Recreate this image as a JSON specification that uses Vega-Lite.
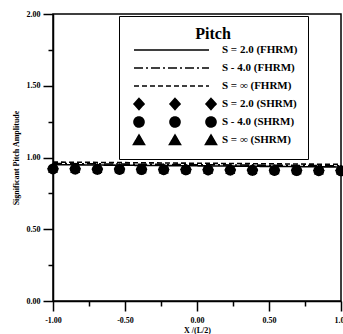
{
  "$schema": "https://vega.github.io/schema/vega-lite/v6.json",
  "width": 288,
  "height": 287,
  "autosize": {"type": "none"},
  "padding": {"left": 53, "top": 14, "right": 2, "bottom": 33},
  "background": "white",
  "config": {
    "view": {"stroke": "black", "strokeWidth": 1.5},
    "axis": {
      "grid": false,
      "domainColor": "black",
      "domainWidth": 1.5,
      "tickColor": "black",
      "tickWidth": 1.5,
      "labelFont": "Liberation Serif",
      "labelFontSize": 8,
      "labelFontWeight": "bold",
      "labelColor": "black",
      "titleFont": "Liberation Serif",
      "titleFontSize": 8,
      "titleFontWeight": "bold",
      "titleColor": "black"
    }
  },
  "datasets": {
    "lines": [
      {"x": -1.0, "y": 0.950, "series": "S = 2.0 (FHRM)"},
      {"x": -0.75, "y": 0.948, "series": "S = 2.0 (FHRM)"},
      {"x": -0.5, "y": 0.946, "series": "S = 2.0 (FHRM)"},
      {"x": -0.25, "y": 0.944, "series": "S = 2.0 (FHRM)"},
      {"x": 0.0, "y": 0.942, "series": "S = 2.0 (FHRM)"},
      {"x": 0.25, "y": 0.940, "series": "S = 2.0 (FHRM)"},
      {"x": 0.5, "y": 0.938, "series": "S = 2.0 (FHRM)"},
      {"x": 0.75, "y": 0.936, "series": "S = 2.0 (FHRM)"},
      {"x": 1.0, "y": 0.934, "series": "S = 2.0 (FHRM)"},
      {"x": -1.0, "y": 0.958, "series": "S - 4.0 (FHRM)"},
      {"x": -0.75, "y": 0.956, "series": "S - 4.0 (FHRM)"},
      {"x": -0.5, "y": 0.954, "series": "S - 4.0 (FHRM)"},
      {"x": -0.25, "y": 0.952, "series": "S - 4.0 (FHRM)"},
      {"x": 0.0, "y": 0.950, "series": "S - 4.0 (FHRM)"},
      {"x": 0.25, "y": 0.948, "series": "S - 4.0 (FHRM)"},
      {"x": 0.5, "y": 0.946, "series": "S - 4.0 (FHRM)"},
      {"x": 0.75, "y": 0.944, "series": "S - 4.0 (FHRM)"},
      {"x": 1.0, "y": 0.942, "series": "S - 4.0 (FHRM)"},
      {"x": -1.0, "y": 0.968, "series": "S = ∞ (FHRM)"},
      {"x": -0.75, "y": 0.966, "series": "S = ∞ (FHRM)"},
      {"x": -0.5, "y": 0.964, "series": "S = ∞ (FHRM)"},
      {"x": -0.25, "y": 0.962, "series": "S = ∞ (FHRM)"},
      {"x": 0.0, "y": 0.960, "series": "S = ∞ (FHRM)"},
      {"x": 0.25, "y": 0.958, "series": "S = ∞ (FHRM)"},
      {"x": 0.5, "y": 0.956, "series": "S = ∞ (FHRM)"},
      {"x": 0.75, "y": 0.954, "series": "S = ∞ (FHRM)"},
      {"x": 1.0, "y": 0.952, "series": "S = ∞ (FHRM)"}
    ],
    "points": [
      {"x": -1.0, "y": 0.922, "series": "S = 2.0 (SHRM)"},
      {"x": -0.846, "y": 0.921, "series": "S = 2.0 (SHRM)"},
      {"x": -0.692, "y": 0.920, "series": "S = 2.0 (SHRM)"},
      {"x": -0.538, "y": 0.919, "series": "S = 2.0 (SHRM)"},
      {"x": -0.385, "y": 0.918, "series": "S = 2.0 (SHRM)"},
      {"x": -0.231, "y": 0.917, "series": "S = 2.0 (SHRM)"},
      {"x": -0.077, "y": 0.916, "series": "S = 2.0 (SHRM)"},
      {"x": 0.077, "y": 0.915, "series": "S = 2.0 (SHRM)"},
      {"x": 0.231, "y": 0.914, "series": "S = 2.0 (SHRM)"},
      {"x": 0.385, "y": 0.913, "series": "S = 2.0 (SHRM)"},
      {"x": 0.538, "y": 0.912, "series": "S = 2.0 (SHRM)"},
      {"x": 0.692, "y": 0.911, "series": "S = 2.0 (SHRM)"},
      {"x": 0.846, "y": 0.910, "series": "S = 2.0 (SHRM)"},
      {"x": 1.0, "y": 0.909, "series": "S = 2.0 (SHRM)"},
      {"x": -1.0, "y": 0.920, "series": "S - 4.0 (SHRM)"},
      {"x": -0.846, "y": 0.919, "series": "S - 4.0 (SHRM)"},
      {"x": -0.692, "y": 0.918, "series": "S - 4.0 (SHRM)"},
      {"x": -0.538, "y": 0.917, "series": "S - 4.0 (SHRM)"},
      {"x": -0.385, "y": 0.916, "series": "S - 4.0 (SHRM)"},
      {"x": -0.231, "y": 0.915, "series": "S - 4.0 (SHRM)"},
      {"x": -0.077, "y": 0.914, "series": "S - 4.0 (SHRM)"},
      {"x": 0.077, "y": 0.913, "series": "S - 4.0 (SHRM)"},
      {"x": 0.231, "y": 0.912, "series": "S - 4.0 (SHRM)"},
      {"x": 0.385, "y": 0.911, "series": "S - 4.0 (SHRM)"},
      {"x": 0.538, "y": 0.910, "series": "S - 4.0 (SHRM)"},
      {"x": 0.692, "y": 0.909, "series": "S - 4.0 (SHRM)"},
      {"x": 0.846, "y": 0.908, "series": "S - 4.0 (SHRM)"},
      {"x": 1.0, "y": 0.907, "series": "S - 4.0 (SHRM)"},
      {"x": -1.0, "y": 0.924, "series": "S = ∞ (SHRM)"},
      {"x": -0.846, "y": 0.923, "series": "S = ∞ (SHRM)"},
      {"x": -0.692, "y": 0.922, "series": "S = ∞ (SHRM)"},
      {"x": -0.538, "y": 0.921, "series": "S = ∞ (SHRM)"},
      {"x": -0.385, "y": 0.920, "series": "S = ∞ (SHRM)"},
      {"x": -0.231, "y": 0.919, "series": "S = ∞ (SHRM)"},
      {"x": -0.077, "y": 0.918, "series": "S = ∞ (SHRM)"},
      {"x": 0.077, "y": 0.917, "series": "S = ∞ (SHRM)"},
      {"x": 0.231, "y": 0.916, "series": "S = ∞ (SHRM)"},
      {"x": 0.385, "y": 0.915, "series": "S = ∞ (SHRM)"},
      {"x": 0.538, "y": 0.914, "series": "S = ∞ (SHRM)"},
      {"x": 0.692, "y": 0.913, "series": "S = ∞ (SHRM)"},
      {"x": 0.846, "y": 0.912, "series": "S = ∞ (SHRM)"},
      {"x": 1.0, "y": 0.911, "series": "S = ∞ (SHRM)"}
    ]
  },
  "encoding": {
    "x": {
      "field": "x",
      "type": "quantitative",
      "scale": {"domain": [-1, 1], "nice": false, "zero": false},
      "axis": {
        "title": "X /(L/2)",
        "values": [-1, -0.75, -0.5, -0.25, 0, 0.25, 0.5, 0.75, 1],
        "tickSize": {"condition": {"test": "datum.value % 0.5 !== 0", "value": 5}, "value": 10},
        "labelExpr": "datum.value % 0.5 === 0 ? (datum.value < 0 ? '-' : '') + format(abs(datum.value), '.2f') : ''",
        "labelPadding": 5,
        "titlePadding": 2,
        "labelFlush": false
      }
    },
    "y": {
      "field": "y",
      "type": "quantitative",
      "scale": {"domain": [0, 2], "nice": false, "zero": false},
      "axis": {
        "title": "Significant Pitch Amplitude",
        "values": [0, 0.25, 0.5, 0.75, 1, 1.25, 1.5, 1.75, 2],
        "tickSize": {"condition": {"test": "datum.value % 0.5 !== 0", "value": 5}, "value": 10},
        "labelExpr": "datum.value % 0.5 === 0 ? format(datum.value, '.2f') : ''",
        "labelPadding": 3,
        "titlePadding": 6
      }
    }
  },
  "layer": [
    {
      "data": {"name": "lines"},
      "mark": {"type": "line", "strokeWidth": 1.6},
      "encoding": {
        "color": {
          "field": "series",
          "type": "nominal",
          "scale": {
            "domain": ["S = 2.0 (FHRM)", "S - 4.0 (FHRM)", "S = ∞ (FHRM)", "S = 2.0 (SHRM)", "S - 4.0 (SHRM)", "S = ∞ (SHRM)"],
            "range": ["black", "black", "black", "black", "black", "black"]
          },
          "legend": {
            "title": "Pitch",
            "orient": "none",
            "legendX": 66,
            "legendY": 2,
            "padding": 10,
            "strokeColor": "black",
            "fillColor": "white",
            "titleFont": "Liberation Serif",
            "titleFontSize": 16,
            "titleFontWeight": "bold",
            "titleColor": "black",
            "titleAnchor": "middle",
            "titleAlign": "center",
            "titlePadding": 2,
            "labelFont": "Liberation Serif",
            "labelFontSize": 11,
            "labelFontWeight": "bold",
            "labelColor": "black",
            "labelLimit": 0,
            "labelOffset": 81,
            "symbolSize": 100,
            "rowPadding": 0,
            "encode": {
              "symbols": {
                "update": {
                  "shape": {"signal": "datum.value === 'S = 2.0 (SHRM)' ? 'M0,-1.1M0,1.1M-0.2,0L0.8,-1.1L1.8,0L0.8,1.1Z M7,0L8,-1.1L9,0L8,1.1Z M14.2,0L15.2,-1.1L16.2,0L15.2,1.1Z' : datum.value === 'S - 4.0 (SHRM)' ? 'M0,-1.1M0,1.1M-0.2,0A1,1 0 1,0 1.8,0A1,1 0 1,0 -0.2,0Z M7,0A1,1 0 1,0 9,0A1,1 0 1,0 7,0Z M14.2,0A1,1 0 1,0 16.2,0A1,1 0 1,0 14.2,0Z' : datum.value === 'S = ∞ (SHRM)' ? 'M0,-1.1M0,1.1M0.8,-1L1.9,0.9L-0.3,0.9Z M8,-1L9.1,0.9L6.9,0.9Z M15.2,-1L16.3,0.9L14.1,0.9Z' : 'M0,-1.1M0,1.1M-0.2,0H14.8'"},
                  "fill": {"signal": "indexof(datum.value, 'SHRM') >= 0 ? 'black' : 'transparent'"},
                  "stroke": {"signal": "indexof(datum.value, 'FHRM') >= 0 ? 'black' : 'transparent'"},
                  "strokeWidth": {"value": 1.6},
                  "strokeDash": {"signal": "datum.value === 'S - 4.0 (FHRM)' ? [9,3,2,3] : datum.value === 'S = ∞ (FHRM)' ? [5,3] : [1,0]"},
                  "opacity": {"value": 1}
                }
              }
            }
          }
        },
        "strokeDash": {
          "field": "series",
          "type": "nominal",
          "scale": {
            "domain": ["S = 2.0 (FHRM)", "S - 4.0 (FHRM)", "S = ∞ (FHRM)"],
            "range": [[1, 0], [9, 3, 2, 3], [5, 3]]
          },
          "legend": null
        }
      }
    },
    {
      "data": {"name": "points"},
      "mark": {"type": "point", "filled": true, "opacity": 1, "strokeWidth": 0},
      "encoding": {
        "color": {"field": "series", "type": "nominal"},
        "shape": {
          "field": "series",
          "type": "nominal",
          "scale": {
            "domain": ["S = 2.0 (SHRM)", "S - 4.0 (SHRM)", "S = ∞ (SHRM)"],
            "range": ["diamond", "circle", "triangle-up"]
          },
          "legend": null
        },
        "size": {
          "field": "series",
          "type": "nominal",
          "scale": {
            "domain": ["S = 2.0 (SHRM)", "S - 4.0 (SHRM)", "S = ∞ (SHRM)"],
            "range": [140, 100, 90]
          },
          "legend": null
        }
      }
    }
  ]
}
